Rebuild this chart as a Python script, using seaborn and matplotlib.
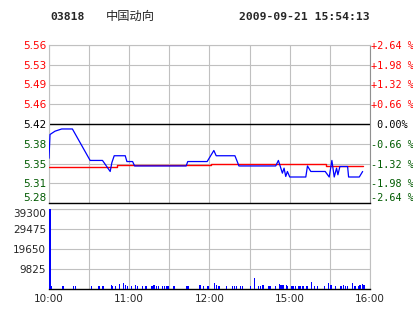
import numpy as np
import pandas as pd
import matplotlib
matplotlib.use("Agg")
import matplotlib.pyplot as plt
import seaborn as sns

# ---------------- data ----------------
code = "03818"
name = "中国动向"
stamp = "2009-09-21 15:54:13"
prev_close = 5.42
pct_steps = [-2.64, -1.98, -1.32, -0.66, 0.00, 0.66, 1.32, 1.98, 2.64]

time_positions = [0, 60, 120, 180, 240]          # minutes of trading session
time_labels = ["10:00", "11:00", "12:00", "15:00", "16:00"]

price_min = [0, 0.75, 4.5, 9.5, 17.5, 30.75, 40, 45.75, 47, 48.75, 57, 58.25, 62.5, 64,
             102.5, 103.75, 118.25, 123.25, 125, 139, 140.25, 142, 169.5, 171.5, 174.5,
             175.75, 177, 178.25, 180, 192, 193.25, 195.75, 206.5, 209.5, 211.5, 213.25,
             215, 216, 217.5, 223.25, 224, 232, 234.5]
price_val = [5.358, 5.401, 5.407, 5.411, 5.411, 5.354, 5.354, 5.334, 5.350, 5.3625, 5.3625,
             5.352, 5.352, 5.344, 5.344, 5.352, 5.352, 5.372, 5.3625, 5.3625, 5.355, 5.344,
             5.344, 5.354, 5.331, 5.340, 5.325, 5.334, 5.324, 5.324, 5.344, 5.334, 5.334,
             5.324, 5.354, 5.324, 5.340, 5.328, 5.343, 5.343, 5.324, 5.324, 5.334]

avg_min = [0, 50.75, 120.75, 179.25, 207, 235]
avg_val = [5.343, 5.346, 5.348, 5.347, 5.344, 5.344]

vol_min = [0, 1.5, 10, 18, 19.5, 31.5, 37, 40, 46, 47, 49.5, 52.5, 55, 57, 58, 61.5, 64, 66,
           69.5, 72, 76.5, 78, 80, 81.5, 84.5, 86, 87.5, 88.5, 93, 102.5, 103.5, 112.5, 115,
           118, 118.5, 123, 124.5, 126, 127, 132, 137, 138, 139.5, 142.5, 144.5, 150, 153,
           156, 157.5, 159.5, 164, 165, 169, 172, 173, 174.5, 177, 178, 181, 182, 184, 186,
           187, 187.5, 189, 190, 192.5, 193, 196, 198, 200.5, 205.5, 208.5, 210, 211, 213.5,
           217.5, 218.5, 220, 221.5, 223, 226.5, 228, 229, 231, 232, 234, 235]
vol_val = [39300, 1000, 1000, 1000, 1000, 1000, 1000, 1000, 1800, 1000, 1000, 2100, 2500, 1600,
           1000, 1000, 1600, 1000, 1000, 1300, 1000, 1600, 1000, 1000, 1000, 1000, 1000, 1000,
           1000, 1000, 1000, 1800, 1000, 1000, 1000, 2500, 1600, 1000, 1000, 1000, 1000, 1000,
           1000, 1000, 1000, 1000, 5300, 1300, 1000, 1600, 1300, 1300, 1300, 2300, 1600, 1600,
           1900, 1300, 1300, 1000, 1000, 1300, 1300, 1300, 1300, 1000, 1300, 1300, 3300, 1000,
           1300, 1000, 2800, 1600, 1600, 1000, 1300, 1300, 1600, 1000, 1300, 2600, 1300, 1300,
           1000, 1600, 2000, 1600]
vol_ticks = [9825, 19650, 29475, 39300]

# ---------------- styling ----------------
sns.set_style("white")
plt.rcParams['font.family'] = ['DejaVu Sans', 'Noto Sans CJK SC']

W, H = 414, 314
fig = plt.figure(figsize=(W / 100, H / 100), dpi=100)

def box(l, t, r, b):
    return [l / W, 1 - b / H, (r - l) / W, (b - t) / H]

RED = "#FF0000"
GREEN = "#005A00"
GRID = "#C0C0C0"

ax = fig.add_axes(box(49, 45, 370, 203))
axv = fig.add_axes(box(49, 209, 370, 288.5))

price_ticks = [prev_close * (1 + p / 100) for p in pct_steps]
lo, hi = price_ticks[0], price_ticks[-1]

# price lines
dfp = pd.DataFrame({"minute": price_min, "price": price_val})
dfa = pd.DataFrame({"minute": avg_min, "price": avg_val})
ax.axhline(prev_close, color="black", lw=1.0, zorder=2)
sns.lineplot(data=dfa, x="minute", y="price", ax=ax, color=RED, lw=1.0,
             drawstyle="steps-post", estimator=None, sort=False, zorder=3)
sns.lineplot(data=dfp, x="minute", y="price", ax=ax, color="#0000FF", lw=0.9,
             estimator=None, sort=False, zorder=4)

ax.set_xlim(0, 240)
ax.set_ylim(lo, hi)
ax.set_xticks(np.arange(0, 241, 30))
ax.set_xticklabels([])
ax.set_yticks(price_ticks)
ax.set_yticklabels([f"{v:.2f}" for v in price_ticks], fontsize=7.5)
for lbl, p in zip(ax.get_yticklabels(), pct_steps):
    lbl.set_color(RED if p > 0 else ("black" if p == 0 else GREEN))
ax.get_yticklabels()[0].set_va("bottom")
ax.tick_params(axis="both", length=0, pad=2)
ax.grid(True, color=GRID, lw=0.8)
ax.set_axisbelow(True)
ax.set_xlabel("")
ax.set_ylabel("")
for s in ["top", "left"]:
    ax.spines[s].set_color(GRID)
    ax.spines[s].set_linewidth(0.8)
ax.spines["right"].set_color("#909090")
ax.spines["right"].set_linewidth(0.8)
ax.spines["bottom"].set_color("black")
ax.spines["bottom"].set_linewidth(1.0)

# right percentage labels
ax2 = ax.twinx()
ax2.set_ylim(lo, hi)
ax2.set_yticks(price_ticks)
pct_labels = []
for p in pct_steps:
    if p > 0:
        pct_labels.append(f"+{p:.2f} %")
    elif p < 0:
        pct_labels.append(f"-{abs(p):.2f} %")
    else:
        pct_labels.append(" 0.00%")
ax2.set_yticklabels(pct_labels, fontsize=7.3, family="DejaVu Sans Mono")
for lbl, p in zip(ax2.get_yticklabels(), pct_steps):
    lbl.set_color(RED if p > 0 else ("black" if p == 0 else GREEN))
ax2.get_yticklabels()[0].set_va("bottom")
ax2.tick_params(axis="y", length=0, pad=1)
for s in ax2.spines.values():
    s.set_visible(False)

# volume
bar_w = [1.6] + [0.9] * (len(vol_min) - 1)
axv.bar(vol_min, vol_val, width=bar_w, align="edge", color="#0000FF", zorder=3, linewidth=0)
axv.set_xlim(0, 240)
axv.set_ylim(0, 39300)
axv.set_xticks(np.arange(0, 241, 30))
axv.set_xticklabels(["" if m not in time_positions else time_labels[time_positions.index(m)]
                     for m in np.arange(0, 241, 30)], fontsize=7.5)
axv.set_yticks(vol_ticks)
axv.set_yticklabels([str(v) for v in vol_ticks], fontsize=7.5)
axv.get_yticklabels()[-1].set_va("top")
axv.tick_params(axis="both", length=0, pad=2)
axv.tick_params(axis="x", pad=4)
axv.grid(True, color=GRID, lw=0.8)
axv.set_axisbelow(True)
for s in ["top", "left", "right"]:
    axv.spines[s].set_color(GRID)
    axv.spines[s].set_linewidth(0.8)
axv.spines["bottom"].set_color("black")
axv.spines["bottom"].set_linewidth(1.0)

# header
fig.text(50 / W, 1 - 16.5 / H, code, fontsize=8.2, fontweight="bold",
         family="DejaVu Sans Mono", va="center", ha="left")
fig.text(106 / W, 1 - 16.5 / H, name, fontsize=8.8, family=["Noto Sans CJK SC", "DejaVu Sans"],
         va="center", ha="left")
fig.text(370 / W, 1 - 16.5 / H, stamp, fontsize=8.2, fontweight="bold",
         family="DejaVu Sans Mono", va="center", ha="right")

fig.savefig("out.png", dpi=100, facecolor="white")
